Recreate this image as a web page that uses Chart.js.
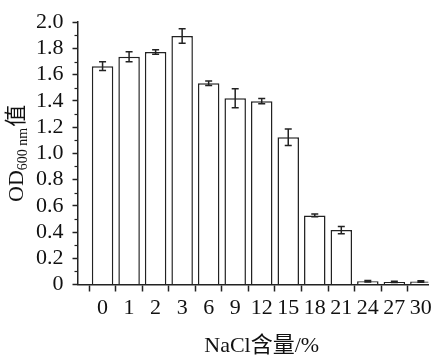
<!DOCTYPE html>
<html><head><meta charset="utf-8">
<script src="https://cdn.jsdelivr.net/npm/chart.js@4/dist/chart.umd.min.js"></script>
<style>html,body{margin:0;padding:0;background:#fff}#wrap{width:436px;height:362px}</style>
</head><body><div id="wrap"><canvas id="c" width="436" height="362"></canvas></div>
<script>
const categories = ['0','1','2','3','6','9','12','15','18','21','24','27','30'];
const odValues = [1.665,1.737,1.773,1.895,1.535,1.42,1.398,1.122,0.527,0.415,0.025,0.02,0.023];
const odErrors = [0.034,0.038,0.017,0.056,0.017,0.073,0.02,0.063,0.01,0.028,0.005,0.004,0.005];
const yTicks = [0,0.2,0.4,0.6,0.8,1.0,1.2,1.4,1.6,1.8,2.0];
const yMinorTicks = [0.1,0.3,0.5,0.7,0.9,1.1,1.3,1.5,1.7,1.9];
const xTitle = 'NaCl含量/%';
const yTitleParts = ['OD', '600 nm', '值'];

const SERIF = '"Liberation Serif", "Times New Roman", "Noto Sans CJK SC", serif';
const INK = '#222';

const extras = {
  id: 'extras',
  afterDatasetsDraw(chart) {
    const ctx = chart.ctx, xs = chart.scales.x, ys = chart.scales.y;
    ctx.save();
    ctx.strokeStyle = INK; ctx.lineWidth = 1.5;
    odValues.forEach((v, i) => {
      const x = xs.getPixelForValue(i);
      const t = ys.getPixelForValue(v + odErrors[i]);
      const b = ys.getPixelForValue(Math.max(0, v - odErrors[i]));
      ctx.beginPath();
      ctx.moveTo(x, t); ctx.lineTo(x, b);
      ctx.moveTo(x - 3.5, t); ctx.lineTo(x + 3.5, t);
      ctx.moveTo(x - 3.5, b); ctx.lineTo(x + 3.5, b);
      ctx.stroke();
    });
    ctx.restore();
  },
  afterDraw(chart) {
    const ctx = chart.ctx, xs = chart.scales.x, ys = chart.scales.y, ca = chart.chartArea;
    ctx.save();
    ctx.strokeStyle = INK; ctx.lineWidth = 1.2;
    yMinorTicks.forEach(v => {
      const y = Math.round(ys.getPixelForValue(v)) + 0.5;
      ctx.beginPath(); ctx.moveTo(ca.left - 3, y); ctx.lineTo(ca.left, y); ctx.stroke();
    });
    ctx.fillStyle = '#111';
    ctx.textAlign = 'center'; ctx.textBaseline = 'middle';
    ctx.font = '22px ' + SERIF;
    const cx = (xs.getPixelForValue(0) + xs.getPixelForValue(categories.length - 1)) / 2;
    ctx.fillText(xTitle, cx, 346);
    // y title
    const cy = (ca.top + ca.bottom) / 2;
    ctx.translate(15, cy); ctx.rotate(-Math.PI / 2);
    ctx.textAlign = 'left'; ctx.textBaseline = 'alphabetic';
    const big = '22px ' + SERIF, small = '14px ' + SERIF;
    ctx.font = big; const w1 = ctx.measureText(yTitleParts[0]).width;
    ctx.font = small; const w2 = ctx.measureText(yTitleParts[1]).width;
    ctx.font = big; const w3 = ctx.measureText(yTitleParts[2]).width;
    let x0 = -(w1 + w2 + w3 + 1) / 2;
    ctx.font = big; ctx.fillText(yTitleParts[0], x0, 8);
    ctx.font = small; ctx.fillText(yTitleParts[1], x0 + w1, 12);
    ctx.font = big; ctx.fillText(yTitleParts[2], x0 + w1 + w2 + 1, 8);
    ctx.restore();
  }
};

new Chart(document.getElementById('c'), {
  type: 'bar',
  data: {
    datasets: [{
      data: odValues.map((v, i) => ({ x: i, y: v })),
      backgroundColor: '#ffffff',
      borderColor: INK,
      borderWidth: 1.5,
      categoryPercentage: 0.81,
      barPercentage: 1.0
    }]
  },
  options: {
    responsive: false,
    animation: false,
    devicePixelRatio: 1,
    layout: { padding: { top: 11, right: 6, left: 0, bottom: 0 } },
    plugins: { legend: { display: false }, tooltip: { enabled: false } },
    scales: {
      x: {
        type: 'linear',
        min: -0.945, max: 12.28,
        offset: false,
        afterBuildTicks: s => { s.ticks = categories.map((c, i) => ({ value: i })); },
        afterFit: s => { s.height = 77.5; },
        ticks: {
          callback: v => categories[Math.round(v)],
          font: { family: SERIF, size: 22 },
          color: '#111', padding: 4, maxRotation: 0, autoSkip: false
        },
        grid: { drawOnChartArea: false, drawTicks: true, tickLength: 7, tickColor: INK, tickWidth: 1.5 },
        border: { color: INK, width: 1.5 }
      },
      y: {
        min: 0, max: 2,
        afterBuildTicks: s => { s.ticks = yTicks.map(v => ({ value: v })); },
        afterFit: s => { s.width = 77.5; },
        ticks: {
          callback: v => (v === 0 ? '0' : v.toFixed(1)),
          font: { family: SERIF, size: 22 },
          color: '#111', padding: 9, autoSkip: false
        },
        grid: { drawOnChartArea: false, drawTicks: true, tickLength: 5, tickColor: INK, tickWidth: 1.5 },
        border: { color: INK, width: 1.5 }
      }
    }
  },
  plugins: [extras]
});
</script></body></html>
